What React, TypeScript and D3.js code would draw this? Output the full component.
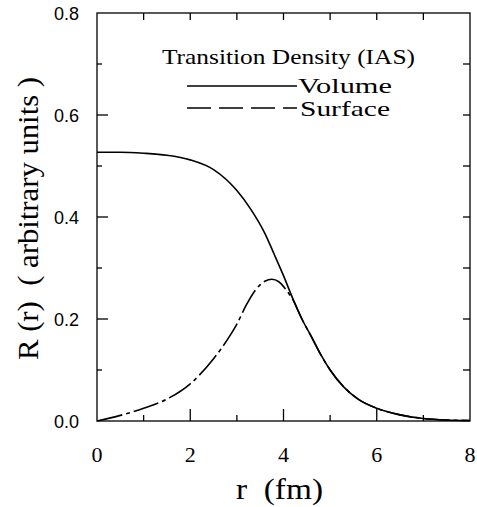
import React from 'react';
import * as d3 from 'd3';

// r (fm) values
const volumeR = [0, 0.5, 1.0, 1.5, 2.0, 2.5, 3.0, 3.3, 3.6, 3.8, 4.0, 4.2, 4.4, 4.6, 4.8, 5.0, 5.3, 5.6, 6.0, 6.5, 7.0, 7.5, 8.0];
const volumeV = [0.527, 0.527, 0.525, 0.521, 0.512, 0.493, 0.452, 0.415, 0.368, 0.327, 0.285, 0.24, 0.199, 0.165, 0.13, 0.1, 0.066, 0.043, 0.025, 0.012, 0.005, 0.002, 0.001];

const surfaceR = [0, 0.5, 1.0, 1.5, 2.0, 2.5, 2.8, 3.0, 3.2, 3.4, 3.6, 3.75, 3.9, 4.05, 4.2, 4.4, 4.6, 4.8, 5.0, 5.3, 5.6, 6.0, 6.5, 7.0, 7.5, 8.0];
const surfaceV = [0, 0.011, 0.025, 0.043, 0.073, 0.122, 0.16, 0.19, 0.227, 0.257, 0.274, 0.278, 0.273, 0.258, 0.238, 0.199, 0.165, 0.13, 0.1, 0.066, 0.043, 0.025, 0.012, 0.005, 0.002, 0.001];

const xTickLabels = [0, 2, 4, 6, 8];
const yTickLabels = [0.0, 0.2, 0.4, 0.6, 0.8];
const xMinorTicks = [1, 3, 5, 7];
const yMinorTicks = [0.1, 0.3, 0.5, 0.7];

const serif = '"Liberation Serif", "DejaVu Serif", serif';
const sans = '"Liberation Sans", Arial, sans-serif';

export default function App() {
  const width = 477;
  const height = 507;
  const left = 97, right = 470, top = 13, bottom = 421;

  const x = d3.scaleLinear().domain([0, 8]).range([left, right]);
  const y = d3.scaleLinear().domain([0, 0.8]).range([bottom, top]);

  const line = d3.line<[number, number]>()
    .x(d => x(d[0]))
    .y(d => y(d[1]))
    .curve(d3.curveMonotoneX);

  const volume = volumeR.map((r, i) => [r, volumeV[i]] as [number, number]);
  const surface = surfaceR.map((r, i) => [r, surfaceV[i]] as [number, number]);

  const allX = d3.range(1, 8);
  const allY = d3.range(1, 8).map(i => i / 10);

  return (
    <svg width={width} height={height} style={{ position: 'absolute', left: 0, top: 0, background: '#fff' }}>
      <rect x={left} y={top} width={right - left} height={bottom - top} fill="none" stroke="#000" strokeWidth={1.3} />

      {/* bottom ticks */}
      {xTickLabels.slice(1, -1).map(t => (
        <line key={'bx' + t} x1={x(t)} x2={x(t)} y1={bottom} y2={bottom - 12} stroke="#000" strokeWidth={1.3} />
      ))}
      {xMinorTicks.map(t => (
        <line key={'bm' + t} x1={x(t)} x2={x(t)} y1={bottom} y2={bottom - 6} stroke="#000" strokeWidth={1.3} />
      ))}
      {/* top ticks */}
      {allX.map(t => (
        <line key={'tx' + t} x1={x(t)} x2={x(t)} y1={top} y2={top + 7} stroke="#000" strokeWidth={1.3} />
      ))}
      {/* left ticks */}
      {yTickLabels.slice(1, -1).map(t => (
        <line key={'ly' + t} x1={left} x2={left + 11} y1={y(t)} y2={y(t)} stroke="#000" strokeWidth={1.3} />
      ))}
      {yMinorTicks.map(t => (
        <line key={'lm' + t} x1={left} x2={left + 5} y1={y(t)} y2={y(t)} stroke="#000" strokeWidth={1.3} />
      ))}
      {/* right ticks */}
      {allY.map(t => (
        <line key={'ry' + t} x1={right} x2={right - 7} y1={y(t)} y2={y(t)} stroke="#000" strokeWidth={1.3} />
      ))}

      {/* tick labels */}
      {xTickLabels.map(t => (
        <text key={'xl' + t} x={x(t)} y={462} textAnchor="middle" fontFamily={serif} fontSize={22}>{t}</text>
      ))}
      {yTickLabels.map(t => (
        <text key={'yl' + t} x={79} y={y(t) + 6.5} textAnchor="end" fontFamily={sans} fontSize={18}>{t.toFixed(1)}</text>
      ))}

      {/* curves */}
      <path d={line(volume) || ''} fill="none" stroke="#000" strokeWidth={1.6} />
      <path d={line(surface) || ''} fill="none" stroke="#000" strokeWidth={1.6} strokeDasharray="26,4,4,4" />

      {/* legend */}
      <text x={162} y={64} fontFamily={serif} fontSize={22} textLength={253} lengthAdjust="spacingAndGlyphs">Transition Density (IAS)</text>
      <line x1={187} x2={297} y1={86} y2={86} stroke="#000" strokeWidth={1.6} />
      <text x={298} y={93} fontFamily={serif} fontSize={22} textLength={94} lengthAdjust="spacingAndGlyphs">Volume</text>
      <line x1={187} x2={297} y1={108} y2={108} stroke="#000" strokeWidth={1.6} strokeDasharray="24,8" />
      <text x={300} y={116} fontFamily={serif} fontSize={22} textLength={90} lengthAdjust="spacingAndGlyphs">Surface</text>

      {/* axis titles */}
      <text x={236} y={499} fontFamily={serif} fontSize={29} xmlSpace="preserve" textLength={87} lengthAdjust="spacingAndGlyphs">r  (fm)</text>
      <text transform={`translate(38, 360) rotate(-90)`} fontFamily={serif} fontSize={29} xmlSpace="preserve" textLength={283} lengthAdjust="spacingAndGlyphs">R (r)  ( arbitrary units )</text>
    </svg>
  );
}
